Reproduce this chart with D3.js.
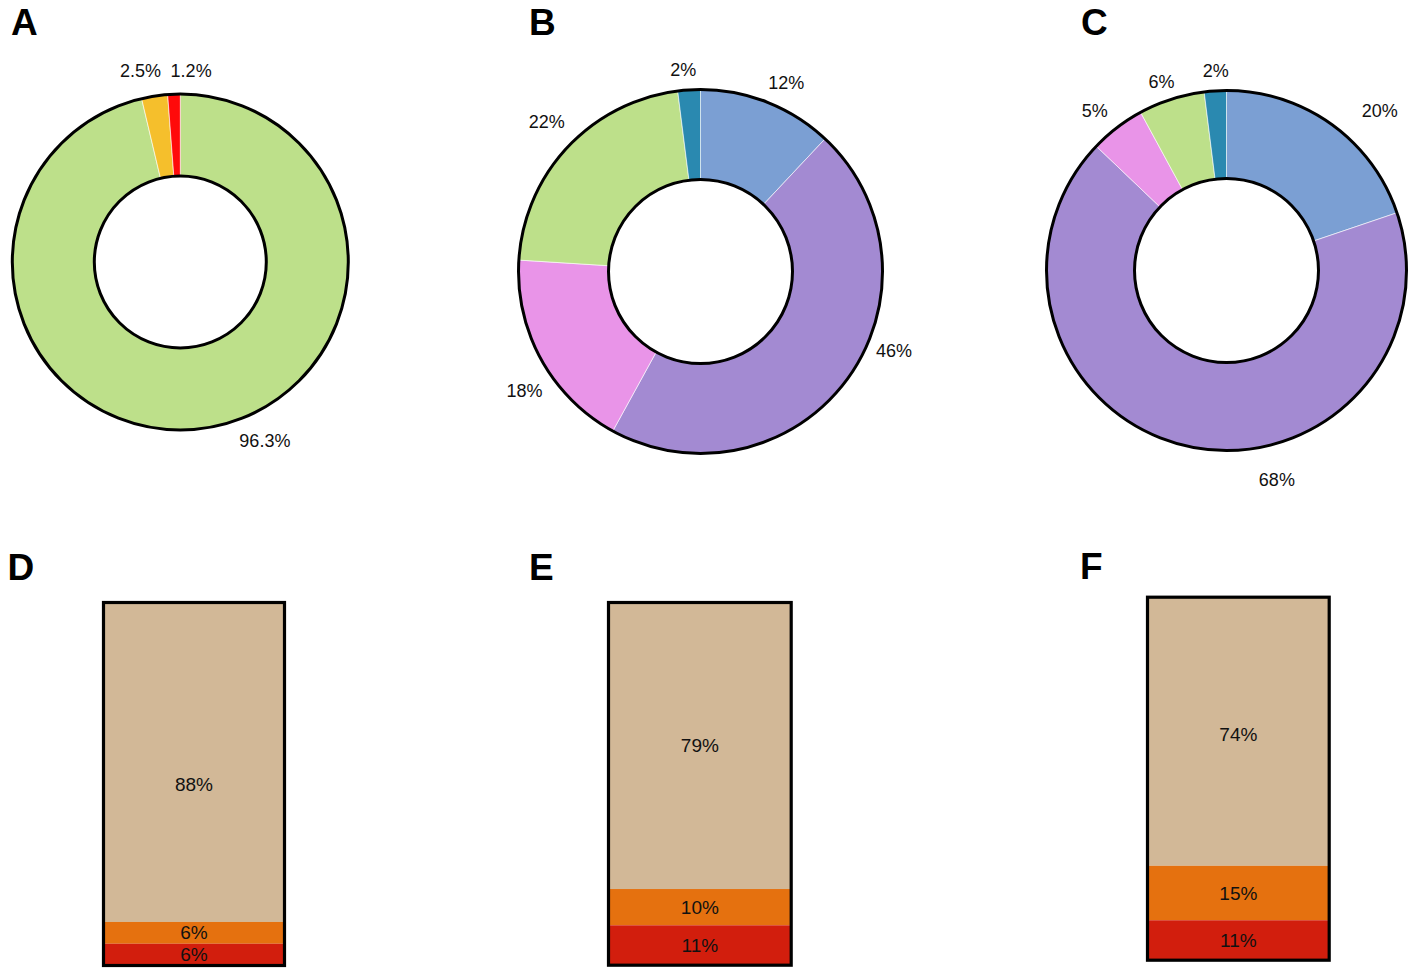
<!DOCTYPE html>
<html>
<head>
<meta charset="utf-8">
<script src="https://cdn.jsdelivr.net/npm/d3@7"></script>
<style>
  html, body { margin: 0; padding: 0; background: #fff; }
  text { font-family: "Liberation Sans", Arial, sans-serif; fill: #111; }
</style>
</head>
<body>
<script>
// donut data (percent), clockwise from 12 o'clock
const donutAValues = [96.3, 2.5, 1.2];
const donutALabels = ['96.3%', '2.5%', '1.2%'];
const donutBValues = [12, 46, 18, 22, 2];
const donutBLabels = ['12%', '46%', '18%', '22%', '2%'];
const donutCValues = [20, 68, 5, 6, 2];
const donutCLabels = ['20%', '68%', '5%', '6%', '2%'];

// stacked bar data (percent), top segment first
const barDValues = [88, 6, 6];
const barEValues = [79, 10, 11];
const barFValues = [74, 15, 11];

// colours
const donutAColors = ['#bde08a', '#f5bf2c', '#ff0a0a'];
const donutBCColors = ['#7b9fd3', '#a38ad2', '#e994e8', '#bde08a', '#2a89b0'];
const barColors = ['#d2b897', '#e5710f', '#d21e0d'];

const width = 1418;
const height = 974;

const svg = d3.select('body')
  .append('svg')
  .attr('width', width)
  .attr('height', height);

svg.append('rect')
  .attr('width', width)
  .attr('height', height)
  .attr('fill', '#fff');

// panel letters
const letters = [
  { t: 'A', x: 11, y: 35 }, { t: 'B', x: 529, y: 35 }, { t: 'C', x: 1081, y: 35 },
  { t: 'D', x: 7.5, y: 580 }, { t: 'E', x: 529, y: 580 }, { t: 'F', x: 1080, y: 579 },
];
svg.selectAll('text.letter')
  .data(letters)
  .join('text')
  .attr('class', 'letter')
  .attr('x', (d) => d.x)
  .attr('y', (d) => d.y)
  .attr('font-size', 37)
  .attr('font-weight', 'bold')
  .style('fill', '#000')
  .text((d) => d.t);

// label placement tweaks (degrees added to the slice mid-angle, radius factor)
const donuts = [
  {
    values: donutAValues, labels: donutALabels, colors: donutAColors,
    cx: 180.3, cy: 262, outer: 168, inner: 86,
    nudge: [-18.6, -3, 5.4], dist: [1.18, 1.16, 1.14],
  },
  {
    values: donutBValues, labels: donutBLabels, colors: donutBCColors,
    cx: 700.5, cy: 271.5, outer: 182, inner: 92,
    nudge: [2.8, -13.6, -5.5, 1.1, -1.3], dist: [1.14, 1.15, 1.17, 1.18, 1.11],
  },
  {
    values: donutCValues, labels: donutCLabels, colors: donutBCColors,
    cx: 1226.5, cy: 270.5, outer: 180, inner: 92,
    nudge: [8.2, -26, -2.1, -1.2, 0.5], dist: [1.23, 1.197, 1.15, 1.11, 1.11],
  },
];

const toRad = Math.PI / 180;

donuts.forEach((p) => {
  const g = svg.append('g').attr('transform', `translate(${p.cx},${p.cy})`);
  const pie = d3.pie().sort(null).value((d) => d);
  const arcs = pie(p.values);
  const arc = d3.arc().innerRadius(p.inner).outerRadius(p.outer);

  g.selectAll('path.slice')
    .data(arcs)
    .join('path')
    .attr('class', 'slice')
    .attr('d', arc)
    .attr('fill', (d, i) => p.colors[i])
    .attr('stroke', '#fff')
    .attr('stroke-width', 0.6);

  // black rims
  [p.outer, p.inner].forEach((r) => {
    g.append('circle')
      .attr('r', r)
      .attr('fill', 'none')
      .attr('stroke', '#000')
      .attr('stroke-width', 3);
  });

  g.selectAll('text.lab')
    .data(arcs)
    .join('text')
    .attr('class', 'lab')
    .attr('x', (d, i) => {
      const a = (d.startAngle + d.endAngle) / 2 + p.nudge[i] * toRad;
      return Math.sin(a) * p.outer * p.dist[i];
    })
    .attr('y', (d, i) => {
      const a = (d.startAngle + d.endAngle) / 2 + p.nudge[i] * toRad;
      return -Math.cos(a) * p.outer * p.dist[i];
    })
    .attr('text-anchor', 'middle')
    .attr('dominant-baseline', 'central')
    .attr('font-size', 18)
    .text((d, i) => p.labels[i]);
});

// stacked bars
const bars = [
  { values: barDValues, x0: 103.5, x1: 284.5, y0: 602.5, y1: 965.5, nudge: [22, 0, 0] },
  { values: barEValues, x0: 608.5, x1: 791.2, y0: 602.5, y1: 965.2, nudge: [0, 0, 0] },
  { values: barFValues, x0: 1147.5, x1: 1329.2, y0: 597.2, y1: 960.2, nudge: [3, 0, 0] },
];

bars.forEach((b) => {
  const total = d3.sum(b.values);
  const y = d3.scaleLinear().domain([0, total]).range([b.y0, b.y1]);
  const x = d3.scaleBand().domain(['bar']).range([b.x0, b.x1]).padding(0);
  const cum = d3.cumsum(b.values);
  const segs = b.values.map((v, i) => ({ v, start: cum[i] - v, end: cum[i], i }));
  const g = svg.append('g');

  g.selectAll('rect.seg')
    .data(segs)
    .join('rect')
    .attr('class', 'seg')
    .attr('x', x('bar'))
    .attr('width', x.bandwidth())
    .attr('y', (d) => y(d.start))
    .attr('height', (d) => y(d.end) - y(d.start))
    .attr('fill', (d) => barColors[d.i]);

  g.append('rect')
    .attr('x', x('bar'))
    .attr('width', x.bandwidth())
    .attr('y', y(0))
    .attr('height', y(total) - y(0))
    .attr('fill', 'none')
    .attr('stroke', '#000')
    .attr('stroke-width', 3.2);

  g.selectAll('text.seglab')
    .data(segs)
    .join('text')
    .attr('class', 'seglab')
    .attr('x', x('bar') + x.bandwidth() / 2)
    .attr('y', (d) => (y(d.start) + y(d.end)) / 2 + b.nudge[d.i])
    .attr('text-anchor', 'middle')
    .attr('dominant-baseline', 'central')
    .attr('font-size', 19)
    .text((d) => `${d.v}%`);
});
</script>
</body>
</html>
